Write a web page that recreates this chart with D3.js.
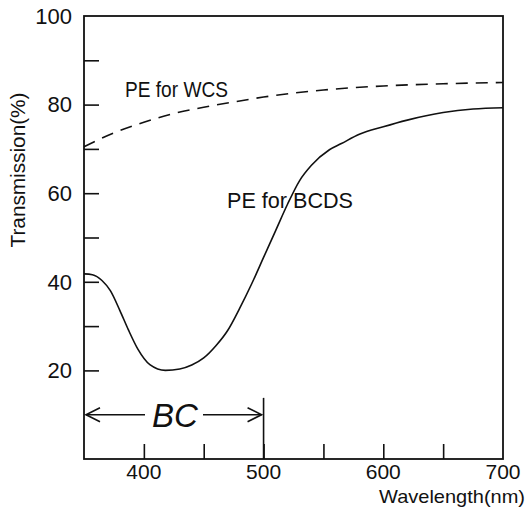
<!DOCTYPE html>
<html lang="en">
<head>
<meta charset="UTF-8">
<title>Transmission</title>
<script src="https://cdn.jsdelivr.net/npm/d3@7"></script>
<style>
  body { margin: 0; background: #fff; }
  text { font-family: "Liberation Sans Narrow", "Liberation Sans", sans-serif; fill: #111; }
</style>
</head>
<body>
<script>
    var width = 529, height = 509;

    // PE for WCS (dashed)
    var wcsWave = [350, 375, 400, 425, 450, 475, 500, 525, 550, 600, 650, 700];
    var wcsTrans = [70.5, 73.6, 76, 78, 79.4, 80.6, 81.7, 82.6, 83.3, 84.2, 84.7, 85];

    // PE for BCDS (solid)
    var bcdsWave = [350, 357, 365, 372, 380, 387, 395, 405, 418, 430, 440, 450, 460, 470, 480, 490, 500, 510, 520, 530, 540, 555, 565, 580, 600, 620, 650, 675, 700];
    var bcdsTrans = [41.8, 41.6, 40.3, 38, 33.5, 29.2, 24.8, 21.3, 20, 20.3, 21.2, 22.8, 25.5, 29, 34, 39.5, 45.5, 51.5, 57.5, 62.8, 66.3, 69.8, 71.2, 73.3, 75, 76.5, 78.2, 79, 79.3];

    var xTicks = [400, 450, 500, 550, 600, 650];
    var xLabels = [400, 500, 600, 700];
    var yTicks = [20, 30, 40, 50, 60, 70, 80, 90];
    var yLabels = [20, 40, 60, 80, 100];

    var x = d3.scaleLinear().domain([350, 700]).range([84, 503]);
    var y = d3.scaleLinear().domain([0, 100]).range([459, 16]);

    var svg = d3.select("body").append("svg")
        .attr("width", width)
        .attr("height", height);

    // frame
    svg.append("rect")
        .attr("x", x(350)).attr("y", y(100))
        .attr("width", x(700) - x(350)).attr("height", y(0) - y(100))
        .attr("fill", "none").attr("stroke", "#111").attr("stroke-width", 1.8);

    var yAxis = d3.axisLeft(y).tickValues(yTicks).tickSize(-15).tickFormat("");
    svg.append("g").attr("transform", "translate(" + x(350) + ",0)").call(yAxis)
        .call(function (g) { g.select(".domain").remove(); })
        .selectAll("line").attr("stroke", "#111").attr("stroke-width", 1.6);

    var xAxis = d3.axisBottom(x).tickValues(xTicks).tickSize(-15).tickFormat("");
    svg.append("g").attr("transform", "translate(0," + y(0) + ")").call(xAxis)
        .call(function (g) { g.select(".domain").remove(); })
        .selectAll("line").attr("stroke", "#111").attr("stroke-width", 1.6);

    svg.selectAll(".ylab").data(yLabels).enter().append("text")
        .attr("x", x(350) - 12).attr("y", function (d) { return y(d); })
        .attr("dy", "0.35em").attr("text-anchor", "end")
        .attr("font-size", 22).text(function (d) { return d; });

    svg.selectAll(".xlab").data(xLabels).enter().append("text")
        .attr("x", function (d) { return x(d); }).attr("y", 479)
        .attr("text-anchor", "middle")
        .attr("font-size", 21).text(function (d) { return d; });

    svg.append("text").attr("x", 379).attr("y", 503)
        .attr("font-size", 19).attr("textLength", 146).attr("lengthAdjust", "spacingAndGlyphs")
        .text("Wavelength(nm)");

    svg.append("text")
        .attr("transform", "translate(25,170) rotate(-90)")
        .attr("text-anchor", "middle")
        .attr("font-size", 20).attr("textLength", 155).attr("lengthAdjust", "spacingAndGlyphs")
        .text("Transmission(%)");

    var wcs = wcsWave.map(function (w, i) { return [w, wcsTrans[i]]; });
    var bcds = bcdsWave.map(function (w, i) { return [w, bcdsTrans[i]]; });

    var line = d3.line()
        .x(function (d) { return x(d[0]); })
        .y(function (d) { return y(d[1]); })
        .curve(d3.curveMonotoneX);

    svg.append("path").attr("d", line(wcs))
        .attr("fill", "none").attr("stroke", "#111").attr("stroke-width", 1.6)
        .attr("stroke-dasharray", "12,8");

    svg.append("path").attr("d", line(bcds))
        .attr("fill", "none").attr("stroke", "#111").attr("stroke-width", 1.6);

    svg.append("text").attr("x", 125).attr("y", 97)
        .attr("font-size", 22).attr("textLength", 103).attr("lengthAdjust", "spacingAndGlyphs")
        .text("PE for WCS");

    svg.append("text").attr("x", 227).attr("y", 208)
        .attr("font-size", 22).attr("textLength", 126).attr("lengthAdjust", "spacingAndGlyphs")
        .text("PE for BCDS");

    // BC range marker
    var by = y(10);
    svg.append("line").attr("x1", x(500)).attr("x2", x(500))
        .attr("y1", y(13.8)).attr("y2", y(0))
        .attr("stroke", "#111").attr("stroke-width", 1.6);
    svg.append("line").attr("x1", x(350) + 2).attr("x2", 145).attr("y1", by).attr("y2", by)
        .attr("stroke", "#111").attr("stroke-width", 1.6);
    svg.append("line").attr("x1", 203).attr("x2", x(500) - 2).attr("y1", by).attr("y2", by)
        .attr("stroke", "#111").attr("stroke-width", 1.6);
    svg.append("path")
        .attr("d", "M" + (x(350) + 16) + "," + (by - 7) + "L" + (x(350) + 2) + "," + by + "L" + (x(350) + 16) + "," + (by + 7))
        .attr("fill", "none").attr("stroke", "#111").attr("stroke-width", 1.6);
    svg.append("path")
        .attr("d", "M" + (x(500) - 16) + "," + (by - 7) + "L" + (x(500) - 2) + "," + by + "L" + (x(500) - 16) + "," + (by + 7))
        .attr("fill", "none").attr("stroke", "#111").attr("stroke-width", 1.6);
    svg.append("text").attr("x", 175).attr("y", 427)
        .attr("text-anchor", "middle").attr("font-size", 33).attr("font-style", "italic")
        .text("BC");
</script>
</body>
</html>
